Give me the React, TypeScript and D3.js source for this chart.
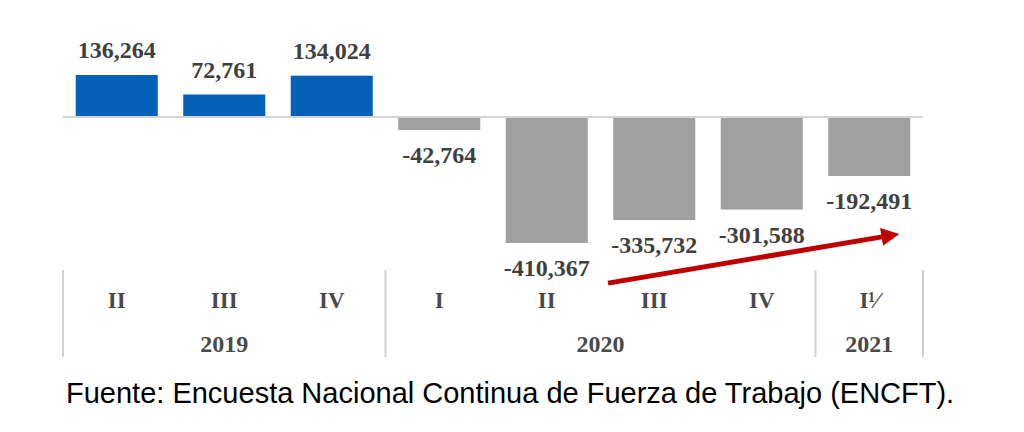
import React from "react";
import * as d3 from "d3";

const quarters = ["II", "III", "IV", "I", "II", "III", "IV", "I\u00B9\u2044"];
const values = [136264, 72761, 134024, -42764, -410367, -335732, -301588, -192491];
const years = ["2019", "2020", "2021"];
const yearSpans = [3, 4, 1];
const arrowFrom = [4.57, -541000];
const arrowTo = [7.28, -381000];
const source = "Fuente: Encuesta Nacional Continua de Fuerza de Trabajo (ENCFT).";

const W = 1024;
const H = 432;

export default function App() {
  const idx = quarters.map((_, i) => i);
  const x = d3.scaleBand<number>().domain(idx).range([63, 923]).paddingInner(0.237).paddingOuter(0.1185);
  const xi = d3.scaleLinear().domain([0, quarters.length]).range([63, 923]);
  const y = d3.scaleLinear().domain([-410367, 136264]).range([243, 75]);
  const fmt = (v: number) => d3.format(",")(v).replace("\u2212", "-");
  const y0 = y(0);

  const seps: number[] = [0];
  let acc = 0;
  yearSpans.forEach((s) => {
    acc += s;
    seps.push(acc);
  });

  const ax1 = xi(arrowFrom[0] + 0.5);
  const ay1 = y(arrowFrom[1]);
  const ax2 = xi(arrowTo[0] + 0.5);
  const ay2 = y(arrowTo[1]);
  const ang = Math.atan2(ay2 - ay1, ax2 - ax1);
  const headLen = 18;
  const headW = 9;
  const bx = ax2 - headLen * Math.cos(ang);
  const by = ay2 - headLen * Math.sin(ang);
  const px = -Math.sin(ang);
  const py = Math.cos(ang);
  const head = [
    [ax2, ay2],
    [bx + px * headW, by + py * headW],
    [bx - px * headW, by - py * headW],
  ];

  const serif = "'Liberation Serif', 'Times New Roman', serif";

  return (
    <svg
      width={W}
      height={H}
      style={{ position: "absolute", left: 0, top: 0, background: "#fff" }}
    >
      <rect x={0} y={0} width={W} height={H} fill="#fff" />
      {values.map((v, i) => (
        <rect
          key={"b" + i}
          x={x(i)}
          width={x.bandwidth()}
          y={v >= 0 ? y(v) : y0}
          height={Math.abs(y(v) - y0)}
          fill={v >= 0 ? "#0560B8" : "#A0A0A0"}
        />
      ))}
      <line x1={63} x2={923} y1={y0} y2={y0} stroke="#D4D4D4" strokeWidth={2} />
      {values.map((v, i) => (
        <text
          key={"v" + i}
          x={(x(i) as number) + x.bandwidth() / 2}
          y={v >= 0 ? y(v) - 17 : y(v) + 33}
          textAnchor="middle"
          fontFamily={serif}
          fontWeight="bold"
          fontSize={24}
          fill="#404040"
        >
          {fmt(v)}
        </text>
      ))}
      {seps.map((s, i) => (
        <line
          key={"s" + i}
          x1={xi(s)}
          x2={xi(s)}
          y1={270}
          y2={357}
          stroke="#D0D0D0"
          strokeWidth={2}
        />
      ))}
      {quarters.map((q, i) => (
        <text
          key={"q" + i}
          x={xi(i + 0.5)}
          y={308}
          textAnchor="middle"
          fontFamily={serif}
          fontWeight="bold"
          fontSize={23}
          fill="#4a4a4a"
        >
          {q}
        </text>
      ))}
      {years.map((yr, i) => {
        const start = seps[i];
        const end = seps[i + 1];
        return (
          <text
            key={"y" + i}
            x={xi((start + end) / 2)}
            y={352}
            textAnchor="middle"
            fontFamily={serif}
            fontWeight="bold"
            fontSize={24}
            fill="#4a4a4a"
          >
            {yr}
          </text>
        );
      })}
      <line
        x1={ax1}
        y1={ay1}
        x2={bx + 2 * Math.cos(ang)}
        y2={by + 2 * Math.sin(ang)}
        stroke="#C00000"
        strokeWidth={5}
      />
      <polygon points={head.map((p) => p.join(",")).join(" ")} fill="#C00000" />
      <text
        x={66}
        y={403}
        fontFamily="'Liberation Sans', Arial, sans-serif"
        fontSize={29}
        fill="#000"
      >
        {source}
      </text>
    </svg>
  );
}
